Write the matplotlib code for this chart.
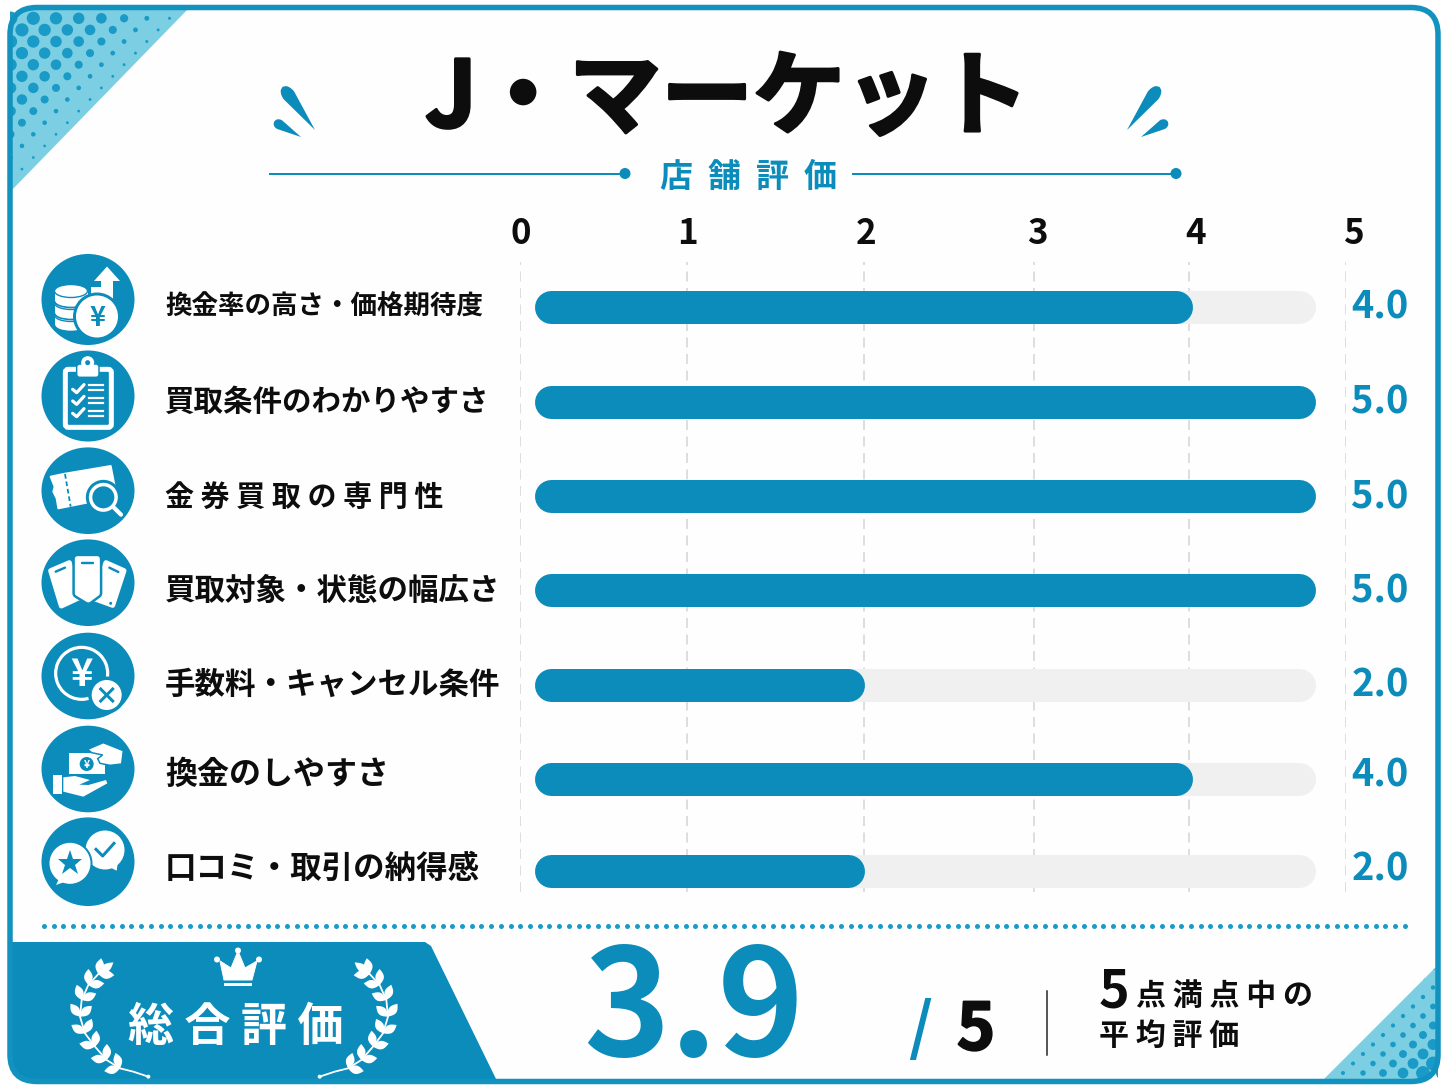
# -*- coding: utf-8 -*-
"""J・マーケット 店舗評価: rating infographic, one rounded bar per criterion."""

import numpy as np
import matplotlib
matplotlib.use("Agg")
import matplotlib.pyplot as plt
import matplotlib.patheffects as pe
from matplotlib.patches import Circle, Ellipse, Polygon, Rectangle, FancyBboxPatch, Arc
from matplotlib.markers import MarkerStyle

plt.rcParams["font.family"] = ["Noto Sans CJK JP", "DejaVu Sans"]

# =============================================================================
# Data
# =============================================================================

title = "J・マーケット"
subtitle = "店  舗  評  価"
criteria = [
    "換金率の高さ・価格期待度",
    "買取条件のわかりやすさ",
    "金券買取の専門性",
    "買取対象・状態の幅広さ",
    "手数料・キャンセル条件",
    "換金のしやすさ",
    "口コミ・取引の納得感",
]
scores = [4.0, 5.0, 5.0, 5.0, 2.0, 4.0, 2.0]
score_ticks = [0, 1, 2, 3, 4, 5]
overall = "3.9"
overall_max = "5"

# =============================================================================
# Settings (pixel layout of the 1448 x 1086 canvas)
# =============================================================================

W, H, DPI = 1448, 1086, 100
BLUE = "#0B8CBB"
FRAME = "#1192BF"
LIGHT = "#7CCFE2"
DOT = "#1A9AC6"
TRACK = "#F0F0F0"
INK = "#0D0D0D"

row_y = [306.5, 401.5, 496, 589.5, 684.5, 779, 871]
label_y = [307, 402, 497, 591, 685, 775, 869]
label_px = [26.5, 29.5, 29, 30.5, 30.5, 32, 31.5]
icon_ry = [45.5, 45.5, 43.3, 43.3, 43.3, 43.3, 44.3]
icon_y = [299.5, 396, 490.7, 582.7, 676, 769, 861.7]
ICON_X = 88
ICON_RX = 46.5

# the picture's axis is not linear, so both scales are piecewise
bar_px = [551, 848, 1176, 1298.5]
bar_val = [0, 2, 4, 5]
grid_px = [519.5, 687, 864, 1034, 1188.5, 1345.5]
tick_dx = [1.5, 1, 2, 3, 7.5, 7.5]


def fs(px):
    return px * 72 / DPI


def leaf_points(x, y, angle, length, width, tear=False):
    t = np.linspace(0, 1, 40)
    if tear:
        # thin point at the start, round head at the far end
        prof = width / 2 * np.where(t < 0.8, t / 0.8, np.sqrt(np.clip(1 - ((t - 0.8) / 0.2) ** 2, 0, 1)))
    else:
        prof = np.sin(np.pi * t) * width / 2
    a = np.radians(angle)
    d = np.array([np.cos(a), np.sin(a)])
    n = np.array([-d[1], d[0]])
    up = np.outer(t * length, d) + np.outer(prof, n)
    lo = np.outer(t * length, d) - np.outer(prof, n)
    return np.vstack([up, lo[::-1]]) + [x, y]


def add_poly(ax, pts, color="white", z=6, **kw):
    p = Polygon(pts, closed=True, facecolor=color, edgecolor=kw.pop("ec", "none"), zorder=z, **kw)
    ax.add_patch(p)
    return p


def add_circle(ax, x, y, r, color="white", z=6, **kw):
    c = Circle((x, y), r, facecolor=color, edgecolor="none", zorder=z, **kw)
    ax.add_patch(c)
    return c


def halftone(ax, clip, xs0, ys, dx, radius):
    for j, y in enumerate(ys):
        for x in xs0 + (j % 2) * dx / 2 + np.arange(-1, 70) * dx:
            r = radius(x, y)
            if r > 0.4:
                c = add_circle(ax, x, y, r, DOT, z=2)
                c.set_clip_path(clip)


# =============================================================================
# Icons, coordinates come from zoomed crops of the reference
# =============================================================================

def z4(zx, zy):
    return 20 + zx / 3, 340 + zy / 3


def z5(zx, zy):
    return 20 + zx / 3, 620 + zy / 3


def z4s(points):
    return [z4(*p) for p in points]


def z5s(points):
    return [z5(*p) for p in points]


def icon_coins(ax):
    for y in [315, 303, 291]:
        ax.add_patch(Ellipse((71, y + 10), 33, 13, facecolor="white", edgecolor=BLUE, lw=1.2, zorder=6))
        ax.add_patch(Rectangle((54.5, y), 33, 10, facecolor="white", edgecolor="none", zorder=6))
        ax.add_patch(Ellipse((71, y), 33, 13, facecolor="white", edgecolor=BLUE, lw=1.0, zorder=6))
    add_poly(ax, [(107, 266.5), (120, 281), (113, 281), (113, 300), (101, 300), (101, 281), (94, 281)])
    ax.add_patch(Rectangle((91, 287), 10, 10, facecolor="white", edgecolor="none", zorder=6))
    add_circle(ax, 97, 316.5, 24, BLUE, z=7)
    add_circle(ax, 97, 316.5, 21, "white", z=8)
    ax.text(97, 318, "¥", color=BLUE, fontsize=fs(27), weight="bold", ha="center", va="center", zorder=9)


def icon_clipboard(ax):
    x0, y0 = z4(130, 82)
    x1, y1 = z4(280, 268)
    ax.add_patch(FancyBboxPatch((x0 + 2, y0 + 2), x1 - x0 - 4, y1 - y0 - 4, boxstyle="round,pad=0,rounding_size=3",
                                facecolor=BLUE, edgecolor="white", lw=fs(5), zorder=6))
    x0, y0 = z4(170, 72)
    x1, y1 = z4(237, 112)
    ax.add_patch(FancyBboxPatch((x0, y0), x1 - x0, y1 - y0, boxstyle="round,pad=0,rounding_size=3",
                                facecolor="white", edgecolor=BLUE, lw=fs(1.5), zorder=7))
    add_circle(ax, *z4(203, 68), 6.5, "white", z=7)
    add_circle(ax, *z4(203, 68), 2.5, BLUE, z=8)
    for cy, ly in [(150, (135, 150)), (185, (175, 190)), (222, (212, 228))]:
        xs, ys = zip(*z4s([(158, cy - 2), (170, cy + 8), (192, cy - 16)]))
        ax.plot(xs, ys, color="white", lw=fs(3.2), zorder=7, solid_capstyle="round")
        for lyy in ly:
            xs, ys = zip(*z4s([(208, lyy), (250, lyy)]))
            ax.plot(xs, ys, color="white", lw=fs(2.2), zorder=7)


def icon_ticket(ax):
    pts = z4s([(92, 410), (130, 402), (272, 378), (290, 470), (115, 505), (110, 475), (100, 455), (104, 440)])
    add_poly(ax, pts, ec="white", lw=fs(2), joinstyle="round")
    xs, ys = zip(*z4s([(135, 402), (152, 500)]))
    ax.plot(xs, ys, color=BLUE, lw=fs(1.8), ls=(0, (2.6, 1.6)), zorder=7)
    mx, my = z4(250, 472)
    add_circle(ax, mx, my, 17.5, BLUE, z=7)
    add_circle(ax, mx, my, 14.5, "white", z=8)
    add_circle(ax, mx, my, 11, BLUE, z=9)
    xs, ys = zip(*z4s([(282, 503), (303, 524)]))
    ax.plot(xs, ys, color=BLUE, lw=fs(7.5), zorder=7, solid_capstyle="round")
    ax.plot(xs, ys, color="white", lw=fs(4.2), zorder=8, solid_capstyle="round")


def icon_phones(ax):
    for pts, slot in [
        ([(92, 692), (148, 668), (180, 772), (124, 798)], [(107, 695), (135, 683)]),
        ([(258, 668), (312, 692), (278, 796), (220, 775)], [(268, 683), (295, 696)]),
    ]:
        add_poly(ax, z4s(pts), ec="white", lw=fs(5), joinstyle="round")
        xs, ys = zip(*z4s(slot))
        ax.plot(xs, ys, color=BLUE, lw=fs(2.4), zorder=7, solid_capstyle="round")
    mid = z4s([(172, 656), (232, 656), (232, 760), (205, 780), (172, 760)])
    add_poly(ax, mid, BLUE, z=7, ec=BLUE, lw=fs(10), joinstyle="round")
    add_poly(ax, mid, "white", z=8, ec="white", lw=fs(5), joinstyle="round")
    xs, ys = zip(*z4s([(185, 670), (218, 670)]))
    ax.plot(xs, ys, color=BLUE, lw=fs(2.4), zorder=9, solid_capstyle="round")
    add_circle(ax, *z4(272, 790), 1.5, BLUE, z=7)


def icon_yen(ax):
    cx, cy = z5(185, 160)
    ax.add_patch(Arc((cx, cy), 52, 52, theta1=0, theta2=360, color="white", lw=fs(3.2), zorder=6))
    ax.text(cx, cy + 1, "¥", color="white", fontsize=fs(38), weight="bold", ha="center", va="center", zorder=7)
    xc, yc = z5(260, 225)
    add_circle(ax, xc, yc, 18.5, BLUE, z=7)
    add_circle(ax, xc, yc, 15, "white", z=8)
    for sx in (-1, 1):
        ax.plot([xc - 6, xc + 6], [yc - 6 * sx, yc + 6 * sx], color=BLUE, lw=fs(3), zorder=9)


def icon_money(ax):
    x0, y0 = z5(148, 400)
    x1, y1 = z5(255, 462)
    ax.add_patch(Rectangle((x0, y0), x1 - x0, y1 - y0, facecolor="white", edgecolor="none", zorder=6))
    add_circle(ax, *z5(200, 432), 7, BLUE, z=7)
    cx, cy = z5(200, 432)
    ax.text(cx, cy + 0.5, "¥", color="white", fontsize=fs(10), weight="bold", ha="center", va="center", zorder=8)
    add_poly(ax, z5s([(203, 388), (250, 368), (310, 392), (305, 432), (270, 436), (240, 430), (233, 416), (248, 405), (215, 398)]),
             ec=BLUE, lw=fs(1.5), z=7)
    x0, y0 = z5(100, 465)
    x1, y1 = z5(125, 522)
    ax.add_patch(Rectangle((x0, y0), x1 - x0, y1 - y0, facecolor="white", edgecolor="none", zorder=6))
    add_poly(ax, z5s([(130, 472), (165, 468), (210, 480), (178, 494), (205, 495), (258, 480), (262, 490), (190, 530), (130, 515)]))


def icon_bubbles(ax):
    cx, cy = z5(255, 690)
    add_circle(ax, cx, cy, 19.5)
    add_poly(ax, z5s([(255, 735), (290, 752), (295, 715)]))
    xs, ys = zip(*z5s([(228, 688), (248, 708), (282, 670)]))
    ax.plot(xs, ys, color=BLUE, lw=fs(3), zorder=7)
    lx, ly = z5(150, 730)
    add_circle(ax, lx, ly, 22.5, BLUE, z=7)
    add_circle(ax, lx, ly, 20.5, "white", z=8)
    add_poly(ax, z5s([(120, 770), (108, 795), (150, 780)]), z=8)
    star = MarkerStyle("*")
    ax.plot([lx], [ly], marker=star, color=BLUE, ms=fs(26), mew=0, zorder=9)


def laurel(ax, side):
    stem = np.array([(445, 530), (400, 515), (360, 505), (320, 480), (285, 440), (255, 400),
                     (240, 350), (245, 300), (265, 255), (295, 222), (330, 195)], dtype=float)
    sx = stem[:, 0] if side < 0 else 2 * 702 - stem[:, 0]
    xs = sx / 3
    ys = 900 + stem[:, 1] / 3
    ax.plot(xs, ys, color="white", lw=fs(1.8), zorder=5, solid_capstyle="round")
    add_circle(ax, xs[0], ys[0], 2, z=5)
    for i in range(2, len(xs) - 1):
        ang = np.degrees(np.arctan2(ys[i + 1] - ys[i], xs[i + 1] - xs[i]))
        for off in (-42, 42):
            add_poly(ax, leaf_points(xs[i], ys[i], ang + off, 16, 8.5), z=5)
    ang = np.degrees(np.arctan2(ys[-1] - ys[-2], xs[-1] - xs[-2]))
    add_poly(ax, leaf_points(xs[-2], ys[-2], ang, 19, 8), z=5)


# =============================================================================
# Figure
# =============================================================================

fig = plt.figure(figsize=(W / DPI, H / DPI), dpi=DPI, facecolor="#FFFFFF")
ax = fig.add_axes([0, 0, 1, 1])
ax.set_xlim(0, W)
ax.set_ylim(H, 0)
ax.axis("off")

# Frame and corner decoration
frame_fill = FancyBboxPatch((10, 7.5), 1428, 1074, boxstyle="round,pad=0,rounding_size=27",
                            facecolor="#FEFEFE", edgecolor="none", zorder=0)
ax.add_patch(frame_fill)

tri_tl = add_poly(ax, [(10, 192), (10, 7.5), (189, 7.5)], LIGHT, z=1)
tri_tl.set_clip_path(frame_fill)
halftone(ax, tri_tl, 33.3 - 45.4, 18.3 + np.arange(17) * 11.6, 22.7,
         lambda x, y: np.interp(x + y, [40, 120, 144, 167, 195], [6.8, 5.3, 4, 2.3, 1.2]))

tri_br = add_poly(ax, [(1322, 1081), (1438, 1081), (1438, 965)], LIGHT, z=1)
tri_br.set_clip_path(frame_fill)
halftone(ax, tri_br, 1343 - 40, 1073 - np.arange(12) * 9.5, 20,
         lambda x, y: np.interp((1438 - x) + (1081 - y), [22, 41, 61, 81, 103, 118], [7, 5.5, 4, 2.8, 2, 1.6]))

band = add_poly(ax, [(10, 942), (425, 942), (431, 946), (497, 1081), (10, 1081)], BLUE, z=3)
band.set_clip_path(frame_fill)

ax.add_patch(FancyBboxPatch((10, 7.5), 1428, 1074, boxstyle="round,pad=0,rounding_size=27",
                            facecolor="none", edgecolor=FRAME, lw=fs(5.5), zorder=4))

# Title block
ax.text(727, 100, title, fontsize=fs(92), weight="bold", color=INK, ha="center", va="center", zorder=5,
        path_effects=[pe.withStroke(linewidth=fs(3), foreground=INK)])
for mirror in (False, True):
    for x, y, ang, length, width in [(315, 130, -127, 54, 13), (301, 137, -150, 31, 10)]:
        pts = leaf_points(0, 0, ang, length, width, tear=True) + [x, y]
        if mirror:
            pts[:, 0] = 1442 - pts[:, 0]
        add_poly(ax, pts, BLUE, z=5)

ax.plot([270, 625], [173.5, 173.5], color=BLUE, lw=fs(2), zorder=5)
ax.plot([853, 1176], [173.5, 173.5], color=BLUE, lw=fs(2), zorder=5)
add_circle(ax, 625, 173.5, 5.5, BLUE, z=5)
add_circle(ax, 1176, 173.5, 5.5, BLUE, z=5)
ax.text(748, 177, subtitle, fontsize=fs(33), weight="bold", color=BLUE, ha="center", va="center", zorder=5)

# Category icons and labels
for y, ry in zip(icon_y, icon_ry):
    ax.add_patch(Ellipse((ICON_X, y), 2 * ICON_RX, 2 * ry, facecolor=BLUE, edgecolor="none", zorder=5))
for draw in [icon_coins, icon_clipboard, icon_ticket, icon_phones, icon_yen, icon_money, icon_bubbles]:
    draw(ax)

for name, y, size in zip(criteria, label_y, label_px):
    text = " ".join(name) if name == "金券買取の専門性" else name
    ax.text(165, y, text, fontsize=fs(size), weight="bold", color=INK, ha="left", va="center", zorder=5)

# Dashed score grid with its own scale
ax_grid = fig.add_axes([grid_px[0] / W, 1 - 892 / H, (grid_px[-1] - grid_px[0]) / W, (892 - 262) / H])
ax_grid.patch.set_alpha(0)
ax_grid.set_xscale("function", functions=(
    lambda v: np.interp(v, score_ticks, grid_px),
    lambda p: np.interp(p, grid_px, score_ticks),
))
ax_grid.set_xlim(0, 5)
ax_grid.set_ylim(0, 1)
ax_grid.axis("off")
ax_grid.vlines(score_ticks, 0, 1, color="#D4D4D4", lw=fs(1.5), linestyles=[(0, (6.67, 4.33))], zorder=1)
for tick, dx in zip(score_ticks, tick_dx):
    ax_grid.annotate(str(tick), (tick, 1), xytext=(dx, 29), textcoords="offset pixels", annotation_clip=False,
                     fontsize=fs(35), weight="bold", color=INK, ha="center", va="center")

# Score bars
ax_bars = fig.add_axes([bar_px[0] / W, 0, (bar_px[-1] - bar_px[0]) / W, 1])
ax_bars.patch.set_alpha(0)
ax_bars.set_xscale("function", functions=(
    lambda v: np.interp(v, bar_val, bar_px),
    lambda p: np.interp(p, bar_px, bar_val),
))
ax_bars.set_xlim(0, 5)
ax_bars.set_ylim(H, 0)
ax_bars.axis("off")
for y, score in zip(row_y, scores):
    ax_bars.plot([0, 5], [y, y], color=TRACK, lw=fs(33), solid_capstyle="round", clip_on=False, zorder=2)
    ax_bars.plot([0, score], [y, y], color=BLUE, lw=fs(33), solid_capstyle="round", clip_on=False, zorder=3)

for y, score in zip(label_y, scores):
    ax.text(1380, y, f"{score:.1f}", fontsize=fs(38), weight="bold", color=BLUE, ha="center", va="center", zorder=6)

# Footer
ax.scatter(np.arange(44, 1410, 9.72), np.full(141, 926), s=fs(5) ** 2, color=DOT, linewidths=0, zorder=5)

crown = [(220, 961), (231, 968), (238, 951), (245, 968), (257, 961), (252, 980), (224, 980)]
add_poly(ax, crown, z=5, ec="white", lw=fs(1), joinstyle="round")
for x, y in [(217, 959.5), (238, 950.5), (259, 959.5)]:
    add_circle(ax, x, y, 3, z=5)
ax.add_patch(Rectangle((224, 983), 28, 2.8, facecolor="white", edgecolor="none", zorder=5))
laurel(ax, -1)
laurel(ax, 1)
ax.text(236, 1027, "総 合 評 価", fontsize=fs(46), weight="bold", color="white", ha="center", va="center", zorder=6)

ax.text(694, 1056, overall, fontsize=fs(147), weight="bold", color=BLUE, ha="center", va="baseline", zorder=5)
ax.text(920, 1030, "/", fontsize=fs(62), weight="bold", color=BLUE, ha="center", va="center", zorder=5)
ax.text(976, 1031, overall_max, fontsize=fs(65), weight="bold", color=INK, ha="center", va="center", zorder=5,
        path_effects=[pe.withStroke(linewidth=fs(2), foreground=INK)])
ax.plot([1046.5, 1046.5], [991, 1055], color="#222222", lw=fs(1.5), zorder=5)

ax.text(1099, 992, overall_max, fontsize=fs(52), weight="bold", color=INK, ha="left", va="center", zorder=5)
ax.text(1136, 996, "点 満 点 中 の", fontsize=fs(30), weight="bold", color=INK, ha="left", va="center", zorder=5)
ax.text(1099, 1036, "平 均 評 価", fontsize=fs(30), weight="bold", color=INK, ha="left", va="center", zorder=5)

fig.savefig("out.png", dpi=DPI)
